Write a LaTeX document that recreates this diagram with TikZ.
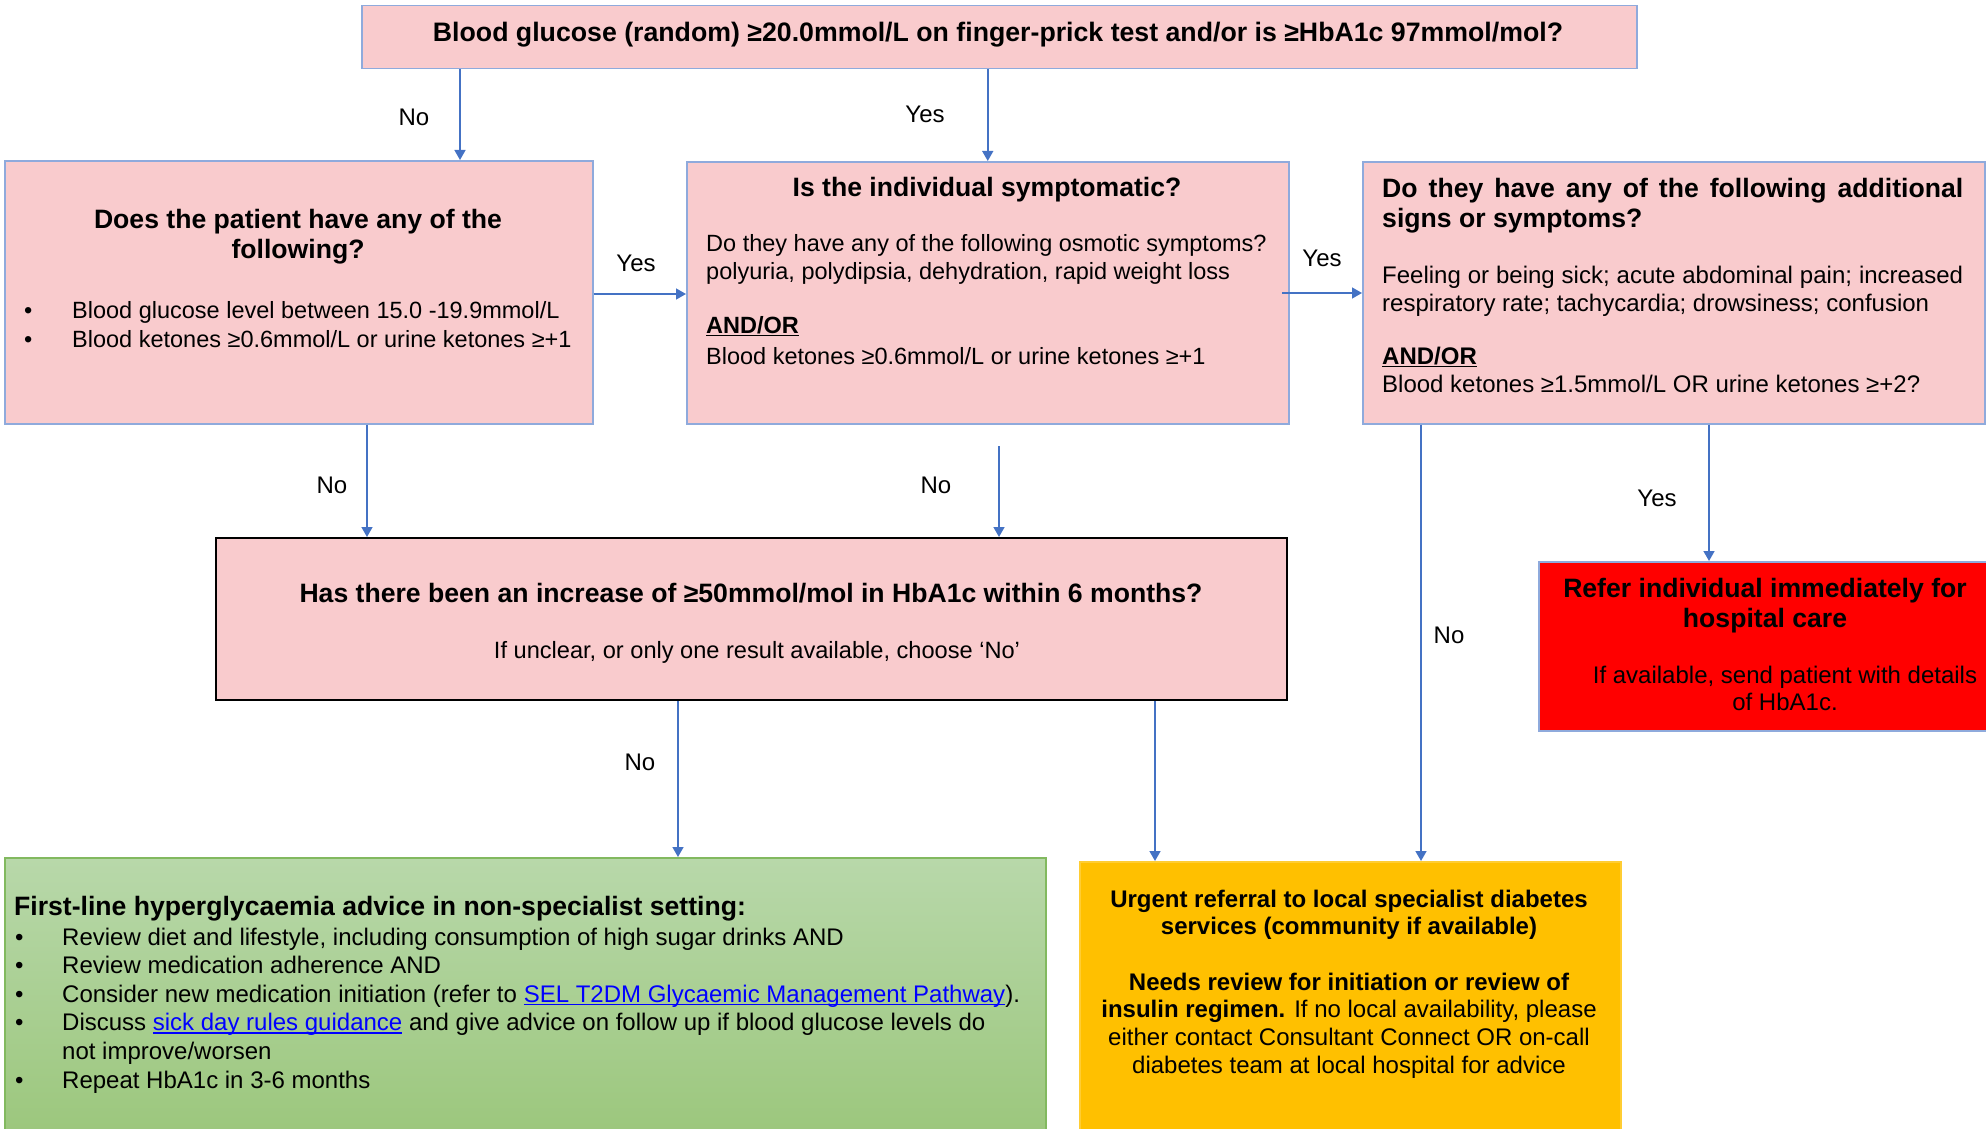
\documentclass[tikz,border=0pt]{standalone}
\usepackage{fontspec}
\setmainfont{Liberation Sans}
\usetikzlibrary{arrows.meta}
\definecolor{pinkfill}{RGB}{249,203,205}
\definecolor{boxblue}{RGB}{143,170,220}
\definecolor{arrowblue}{RGB}{68,114,196}
\definecolor{redfill}{RGB}{255,0,0}
\definecolor{orangefill}{RGB}{255,192,0}
\definecolor{greentop}{RGB}{184,216,170}
\definecolor{greenbot}{RGB}{156,199,125}
\definecolor{greenline}{RGB}{130,185,95}
\definecolor{linkblue}{RGB}{0,0,255}
\newcommand{\mytab}[2]{\begin{tabular}[t]{@{}#1@{}}#2\end{tabular}}
\newcommand{\bul}[1]{\makebox[#1][l]{•}}
\newcommand{\myul}[1]{\setbox0\hbox{#1}\rlap{\rule[-3pt]{\wd0}{1.4pt}}\box0}
\newcommand{\weblink}[1]{\textcolor{linkblue}{\myul{#1}}}
\newcommand{\andor}{\myul{\textbf{AND/OR}}}
\begin{document}
\begin{tikzpicture}[x=1pt,y=-1pt,
  box/.style={draw=boxblue, line width=1.5pt, fill=pinkfill, anchor=north west, inner sep=0pt},
  arr/.style={draw=arrowblue, line width=1.5pt, -{Triangle[width=11pt,length=10pt]}},
  lbl/.style={inner sep=0pt, font=\fontsize{24}{27.6}\selectfont},
  tl/.style={inner sep=0pt, font=\fontsize{26.6}{30}\selectfont\bfseries},
  bd/.style={inner sep=0pt, font=\fontsize{24}{28}\selectfont}]
\useasboundingbox (0,0) rectangle (1986,1129);
% boxes
\node[box, minimum width=1275pt, minimum height=63pt] (top) at (361,5) {};
\node[box, minimum width=588pt, minimum height=263pt] (A) at (4,160) {};
\node[box, minimum width=602pt, minimum height=262pt] (B) at (686,161) {};
\node[box, minimum width=622pt, minimum height=262pt] (C) at (1362,161) {};
\node[box, draw=black, line width=2pt, minimum width=1071pt, minimum height=162pt] (D) at (215,537) {};
\node[box, fill=redfill, minimum width=450pt, minimum height=169pt] (E) at (1538,561) {};
\node[box, draw=greenline, top color=greentop, bottom color=greenbot, minimum width=1041pt, minimum height=274pt] (F) at (4,857) {};
\node[box, draw=orangefill!80!white, fill=orangefill, minimum width=541pt, minimum height=270pt] (G) at (1079,861) {};
% texts
\node[tl, anchor=base, font=\fontsize{26.7}{30}\selectfont\bfseries] (topT) at (998,42) {Blood glucose (random) ≥20.0mmol/L on finger-prick test and/or is ≥HbA1c 97mmol/mol?};
\node[tl, anchor=base] (aT) at (298,228) {\mytab{c}{Does the patient have any of the\\following?}};
\node[bd, anchor=base west, font=\fontsize{23.5}{29}\selectfont] (aL) at (24,318) {\mytab{l}{\bul{48pt}Blood glucose level between 15.0 -19.9mmol/L\\\bul{48pt}Blood ketones ≥0.6mmol/L or urine ketones ≥+1}};
\node[tl, anchor=base] (bT) at (987,196) {Is the individual symptomatic?};
\node[bd, anchor=base west, font=\fontsize{23.5}{28}\selectfont] (bL1) at (706,251) {\mytab{l}{Do they have any of the following osmotic symptoms?\\polyuria, polydipsia, dehydration, rapid weight loss}};
\node[bd, anchor=base west, font=\fontsize{23.5}{31}\selectfont] (bL2) at (706,333) {\mytab{l}{\andor\\Blood ketones ≥0.6mmol/L or urine ketones ≥+1}};
\node[tl, anchor=base west] (cT) at (1382,197) {\mytab{l}{\makebox[581pt][s]{Do they have any of the following additional}\\signs or symptoms?}};
\node[bd, anchor=base west] (cL1) at (1382,283) {\mytab{l}{\makebox[581pt][s]{Feeling or being sick; acute abdominal pain; increased}\\respiratory rate; tachycardia; drowsiness; confusion}};
\node[bd, anchor=base west] (cL2) at (1382,364) {\mytab{l}{\andor\\Blood ketones ≥1.5mmol/L OR urine ketones ≥+2?}};
\node[tl, anchor=base] (dT) at (751,602) {Has there been an increase of ≥50mmol/mol in HbA1c within 6 months?};
\node[bd, anchor=base, font=\fontsize{23.6}{28}\selectfont] (dS) at (757,658) {If unclear, or only one result available, choose ‘No’};
\node[tl, anchor=base] (eT) at (1765,597) {\mytab{c}{Refer individual immediately for\\hospital care}};
\node[bd, anchor=base, font=\fontsize{24}{27}\selectfont] (eL) at (1785,683) {\mytab{c}{If available, send patient with details\\of HbA1c.}};
\node[tl, anchor=base west] (fT) at (14,915) {First-line hyperglycaemia advice in non-specialist setting:};
\node[bd, anchor=base west, font=\fontsize{24}{28.6}\selectfont] (fL) at (15,945) {\mytab{l}{%
\bul{47pt}Review diet and lifestyle, including consumption of high sugar drinks AND\\
\bul{47pt}Review medication adherence AND\\
\bul{47pt}Consider new medication initiation (refer to \weblink{SEL T2DM Glycaemic Management Pathway}).\\
\bul{47pt}Discuss \weblink{sick day rules guidance} and give advice on follow up if blood glucose levels do\\
\hspace*{47pt}not improve/worsen\\
\bul{47pt}Repeat HbA1c in 3-6 months}};
\node[bd, anchor=base, font=\fontsize{24}{27.7}\selectfont] (gL) at (1349,907) {\mytab{c}{%
\textbf{Urgent referral to local specialist diabetes}\\
\textbf{services (community if available)}\\
\\
\textbf{Needs review for initiation or review of}\\
\textbf{insulin regimen.} If no local availability, please\\
either contact Consultant Connect OR on-call\\
diabetes team at local hospital for advice}};
% connector helper coordinates
\coordinate (x1) at (460,0);
\coordinate (x5) at (367,0);
\coordinate (s6) at (999,446);
\coordinate (x7) at (1709,0);
\coordinate (x8) at (1421,0);
\coordinate (x9) at (678,0);
\coordinate (x10) at (1155,0);
\coordinate (y3) at (0,294);
\coordinate (s4) at (1282,293);
% connectors
\draw[arr] (top.south -| x1) -- (A.north -| x1);
\draw[arr] (top.south -| B.north) -- (B.north);
\draw[arr] (A.east |- y3) -- (B.west |- y3);
\draw[arr] (s4) -- (C.west |- s4);
\draw[arr] (A.south -| x5) -- (D.north -| x5);
\draw[arr] (s6) -- (D.north -| s6);
\draw[arr] (C.south -| x7) -- (E.north -| x7);
\draw[arr] (C.south -| x8) -- (G.north -| x8);
\draw[arr] (D.south -| x9) -- (F.north -| x9);
\draw[arr] (D.south -| x10) -- (G.north -| x10);
% labels
\node[lbl] (l1) at (414,117) {No};
\node[lbl] (l2) at (925,114) {Yes};
\node[lbl] (l3) at (636,263) {Yes};
\node[lbl] (l4) at (1322,258) {Yes};
\node[lbl] (l5) at (332,485) {No};
\node[lbl] (l6) at (936,485) {No};
\node[lbl] (l7) at (1657,498) {Yes};
\node[lbl] (l8) at (1449,635) {No};
\node[lbl] (l9) at (640,762) {No};
\end{tikzpicture}
\end{document}
